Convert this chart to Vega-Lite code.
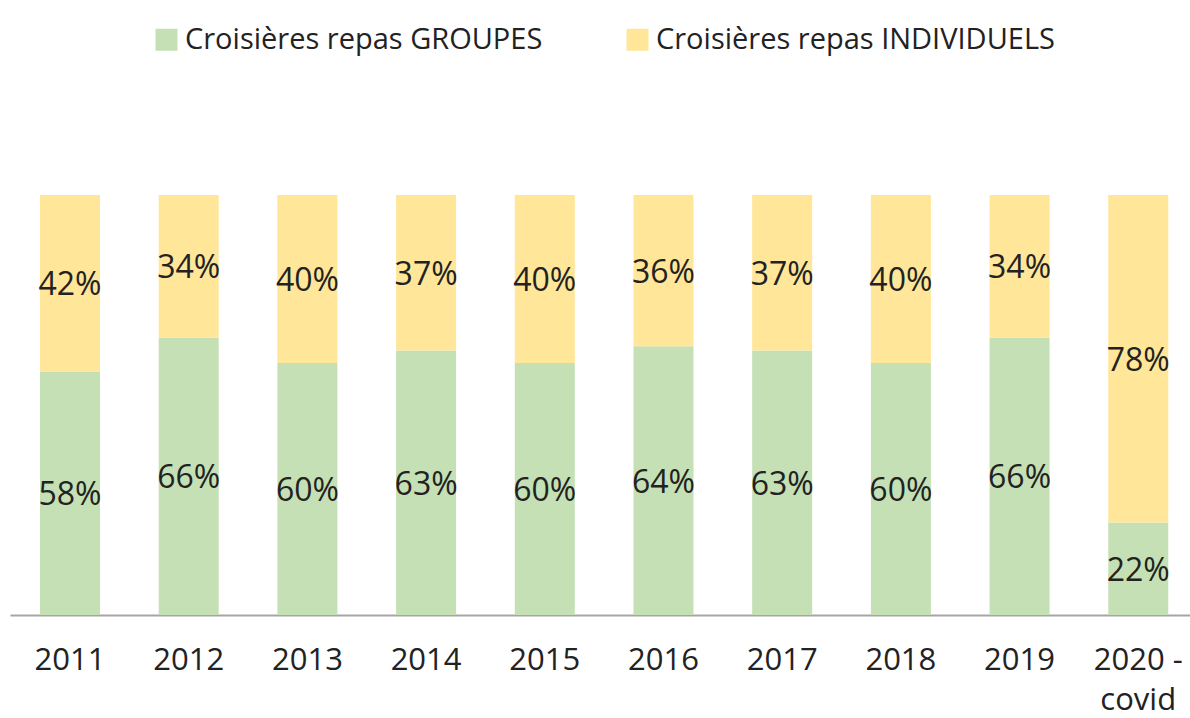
{
  "$schema": "https://vega.github.io/schema/vega-lite/v6.json",
  "width": 1180,
  "height": 420,
  "autosize": {"type": "none"},
  "padding": {"left": 10, "top": 195, "right": 0, "bottom": 103},
  "background": "white",
  "config": {"view": {"stroke": null}, "font": "Open Sans"},
  "data": {
    "values": [
      {"year": "2011", "series": "Croisières repas GROUPES", "value": 58},
      {"year": "2011", "series": "Croisières repas INDIVIDUELS", "value": 42},
      {"year": "2012", "series": "Croisières repas GROUPES", "value": 66},
      {"year": "2012", "series": "Croisières repas INDIVIDUELS", "value": 34},
      {"year": "2013", "series": "Croisières repas GROUPES", "value": 60},
      {"year": "2013", "series": "Croisières repas INDIVIDUELS", "value": 40},
      {"year": "2014", "series": "Croisières repas GROUPES", "value": 63},
      {"year": "2014", "series": "Croisières repas INDIVIDUELS", "value": 37},
      {"year": "2015", "series": "Croisières repas GROUPES", "value": 60},
      {"year": "2015", "series": "Croisières repas INDIVIDUELS", "value": 40},
      {"year": "2016", "series": "Croisières repas GROUPES", "value": 64},
      {"year": "2016", "series": "Croisières repas INDIVIDUELS", "value": 36},
      {"year": "2017", "series": "Croisières repas GROUPES", "value": 63},
      {"year": "2017", "series": "Croisières repas INDIVIDUELS", "value": 37},
      {"year": "2018", "series": "Croisières repas GROUPES", "value": 60},
      {"year": "2018", "series": "Croisières repas INDIVIDUELS", "value": 40},
      {"year": "2019", "series": "Croisières repas GROUPES", "value": 66},
      {"year": "2019", "series": "Croisières repas INDIVIDUELS", "value": 34},
      {"year": "2020 - covid", "series": "Croisières repas GROUPES", "value": 22},
      {"year": "2020 - covid", "series": "Croisières repas INDIVIDUELS", "value": 78}
    ]
  },
  "transform": [
    {"stack": "value", "groupby": ["year"], "sort": [{"field": "series", "order": "ascending"}], "as": ["y0", "y1"]},
    {"calculate": "(datum.y0 + datum.y1) / 2", "as": "ymid"},
    {"calculate": "datum.value + '%'", "as": "label"}
  ],
  "encoding": {
    "x": {
      "field": "year",
      "type": "nominal",
      "sort": null,
      "scale": {"paddingInner": 0.4945, "paddingOuter": 0.218, "align": 0.58, "round": false},
      "axis": {
        "title": null,
        "labelAngle": 0,
        "labelFont": "Open Sans",
        "labelFontSize": 31,
        "labelColor": "#222222",
        "labelPadding": 30,
        "ticks": false,
        "domainColor": "#a6a6a6",
        "domainWidth": 2,
        "labelLineHeight": 40,
        "labelExpr": "datum.value == '2020 - covid' ? ['2020 -', 'covid'] : datum.value"
      }
    }
  },
  "layer": [
    {
      "mark": {"type": "bar"},
      "encoding": {
        "y": {"field": "y0", "type": "quantitative", "scale": {"domain": [0, 100]}, "axis": null},
        "y2": {"field": "y1"},
        "color": {
          "field": "series",
          "type": "nominal",
          "scale": {"domain": ["Croisières repas GROUPES", "Croisières repas INDIVIDUELS"], "range": ["#c5e0b4", "#ffe699"]},
          "legend": {
            "orient": "none",
            "legendX": 142,
            "legendY": -170,
            "direction": "horizontal",
            "title": null,
            "padding": 0,
            "symbolType": "square",
            "symbolSize": 484,
            "symbolStrokeWidth": 0,
            "symbolOpacity": 1,
            "labelFont": "Open Sans",
            "labelFontSize": 29,
            "labelColor": "#222222",
            "labelOffset": 4,
            "labelLimit": 600,
            "columnPadding": 80
          }
        }
      }
    },
    {
      "mark": {"type": "text", "font": "Open Sans", "fontSize": 32, "color": "#222222", "dy": 2},
      "encoding": {
        "y": {"field": "ymid", "type": "quantitative", "scale": {"domain": [0, 100]}},
        "text": {"field": "label"}
      }
    }
  ]
}
